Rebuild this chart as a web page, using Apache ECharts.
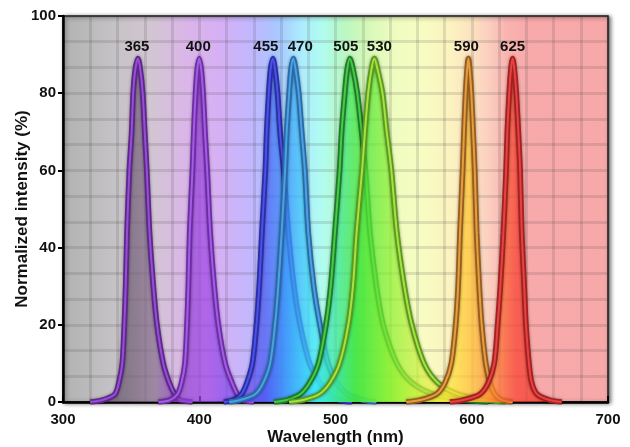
<!DOCTYPE html>
<html>
<head>
<meta charset="utf-8">
<script src="https://cdn.jsdelivr.net/npm/echarts@6/dist/echarts.min.js"></script>
<style>html,body{margin:0;padding:0;background:#fff}#c{width:630px;height:447px}</style>
</head>
<body>
<div id="c"></div>
<script>
// ---- data: [wavelength nm, normalized intensity %] ----
const peakNames = ['365', '400', '455', '470', '505', '530', '590', '625'];
const s365 = [[320,0],[329,0.5],[338,2],[341,5],[343.5,10],[345,20],[346,30],[347,44],[348.7,60],[350.4,70],[351.5,80],[353,86],[355,89],[356.8,86],[358.5,80],[360,70],[361.5,60],[363.5,44],[366.3,30],[369,20],[373.6,10],[378,5],[382,2],[386,0.5],[395,0]];
const s400 = [[370,0],[378.5,0.5],[384,2],[387,5],[389.5,10],[391,20],[392,30],[393,44],[395,60],[396,70],[397.3,80],[398.5,86],[400,89],[401.5,86],[402.8,80],[404.2,70],[405.8,60],[408,44],[411,30],[414,20],[419,10],[424,5],[428,2],[432,0.5],[440,0]];
const s455 = [[418,0],[425,0.5],[431,2],[435,5],[439,10],[442,20],[444,30],[446,44],[448.5,60],[449.5,70],[451,80],[452.3,86],[454,89],[455.7,86],[457.5,80],[459.3,70],[462,60],[465.4,44],[469.5,30],[474,20],[481,10],[488.6,5],[495,2],[503,0.5],[512,0]];
const s470 = [[422,0],[430,0.5],[441,2],[447,5],[452,10],[455.6,20],[458,30],[460.5,44],[463,60],[464.2,70],[466,80],[467.3,86],[469,89],[470.8,86],[473,80],[475.2,70],[477.5,60],[480,44],[484,30],[488.6,20],[494.5,10],[501,5],[509,2],[520,0.5],[530,0]];
const s505 = [[455,0],[464,0.5],[474,2],[481,5],[487.5,10],[493,20],[496.5,30],[499.6,44],[503,60],[504.5,70],[506.8,80],[508.5,86],[510.5,89],[513,86],[516,80],[519.2,70],[522,60],[525.3,44],[530,30],[535,20],[545,10],[556,5],[572,2],[595,0.5],[612,0]];
const s530 = [[466,0],[476,0.5],[488,2],[496,5],[503,10],[509.4,20],[512.8,30],[515.5,44],[519.5,60],[521.6,70],[524,80],[526.3,86],[528.5,89],[531,86],[534.5,80],[537.6,70],[541,60],[545,44],[550.5,30],[556,20],[565,10],[575,5],[590,2],[610,0.5],[625,0]];
const s590 = [[552,0],[562,0.5],[574,2],[580.4,5],[585,10],[588.2,20],[590,30],[591.4,44],[593.3,60],[594.3,70],[595.5,80],[596.6,86],[597.5,89],[598.5,86],[599.7,80],[601,70],[602.2,60],[603.6,44],[605.5,30],[607.3,20],[610.3,10],[613.4,5],[617,2],[622,0.5],[630,0]];
const s625 = [[584,0],[593.6,0.5],[606,2],[612.2,5],[616.5,10],[619,20],[621,30],[623.2,44],[625.2,60],[626.1,70],[627.5,80],[628.7,86],[630,89],[631.3,86],[632.7,80],[634.2,70],[635.5,60],[636.7,44],[638.5,30],[639.8,20],[642,10],[644,5],[648,2],[657,0.5],[666,0]];
const curves = [s365, s400, s455, s470, s505, s530, s590, s625];
const xTicks = [300, 400, 500, 600, 700];
const yTicks = [0, 20, 40, 60, 80, 100];

// ---- styles ----
const outerColors = ['#5e2590', '#6f2aa8', '#2a2ca8', '#2a6aa8', '#1f7a2c', '#5a9a1c', '#9a5a1c', '#a81e1e'];
const innerColors = ['#9550d0', '#a05ee0', '#4a52e6', '#4aa2e2', '#44cc44', '#a6e244', '#e0a040', '#e24444'];
const labelOffsetX = [-1, -1, -7, 7, -4, 5, -2, 0];
const FONT = 'Liberation Sans, Arial, sans-serif';

const chart = echarts.init(document.getElementById('c'), null, {renderer: 'canvas'});

const L = 63, R = 608;
function nmStop(nm, c) { return {offset: (nm - 300) / 400, color: c}; }
const bgGrad = new echarts.graphic.LinearGradient(0, 0, 1, 0, [
  nmStop(300, '#b2b2b2'), nmStop(340, '#c6c3c6'), nmStop(365, '#d2c6d2'),
  nmStop(390, '#dab6e8'), nmStop(415, '#d6b0f4'), nmStop(440, '#c0b8ff'),
  nmStop(458, '#a8c8ff'), nmStop(475, '#acecff'), nmStop(490, '#b0fcf0'),
  nmStop(505, '#b8f8c4'), nmStop(522, '#d4f8b8'), nmStop(542, '#eefcc0'),
  nmStop(565, '#f8fcc2'), nmStop(585, '#fcf2c0'), nmStop(600, '#fce2c0'),
  nmStop(612, '#fbcfc0'), nmStop(625, '#f9b4b0'), nmStop(640, '#f8aaaa'),
  nmStop(700, '#f7a8a8')
]);
const fillGrad = new echarts.graphic.LinearGradient(L, 0, R, 0, [
  nmStop(300, '#4a4a4a'), nmStop(345, '#6a5a6e'), nmStop(368, '#8a7090'),
  nmStop(382, '#8a40c8'), nmStop(405, '#a048e6'), nmStop(430, '#7048f0'),
  nmStop(448, '#4a58f2'), nmStop(465, '#3a9cfa'), nmStop(485, '#3ae6f6'),
  nmStop(500, '#3ae6a0'), nmStop(515, '#40e640'), nmStop(540, '#8af030'),
  nmStop(565, '#d8f040'), nmStop(585, '#ffe236'), nmStop(600, '#ffc030'),
  nmStop(615, '#ff8a30'), nmStop(632, '#f84030'), nmStop(700, '#e82020')
], true);

const series = [];
curves.forEach((d, i) => {
  let maxI = 0;
  d.forEach((p, k) => { if (p[1] > d[maxI][1]) maxI = k; });
  series.push({
    type: 'line', name: peakNames[i] + '_o', data: d, smooth: 0.3,
    showSymbol: false, symbol: 'none', silent: true, z: 2 + i * 2,
    lineStyle: {color: outerColors[i], width: 5.5, shadowColor: 'rgba(0,0,0,0.45)', shadowBlur: 3},
    areaStyle: {color: fillGrad, opacity: 0.72}
  });
  series.push({
    type: 'line', name: peakNames[i], data: d, smooth: 0.3,
    showSymbol: false, symbol: 'none', silent: true, z: 3 + i * 2,
    lineStyle: {color: innerColors[i], width: 2},
    markPoint: {
      silent: true, symbol: 'circle', symbolSize: 1,
      itemStyle: {color: 'rgba(0,0,0,0)'},
      label: {show: true, position: 'top', distance: 4, offset: [labelOffsetX[i], 0],
        formatter: peakNames[i], fontFamily: FONT, fontWeight: 'bold', fontSize: 15,
        color: '#111111', opacity: 1, textBorderWidth: 0},
      data: [{coord: d[maxI]}]
    }
  });
});

chart.setOption({
  animation: false,
  backgroundColor: '#ffffff',
  grid: {
    left: L, right: 630 - R, top: 16, bottom: 45, show: true,
    outerBoundsMode: 'none', containLabel: false,
    backgroundColor: bgGrad, borderColor: '#1a1a1a', borderWidth: 1.5,
    shadowColor: 'rgba(0,0,0,0.55)', shadowBlur: 4, shadowOffsetX: 2, shadowOffsetY: 1
  },
  xAxis: {
    type: 'value', min: xTicks[0], max: xTicks[xTicks.length - 1], interval: 100,
    name: 'Wavelength (nm)', nameLocation: 'middle', nameGap: 27, nameMoveOverlap: false,
    nameTextStyle: {fontFamily: FONT, fontWeight: 'bold', fontSize: 17, color: '#111'},
    axisLine: {show: true, lineStyle: {color: '#000', width: 2.5}},
    axisTick: {show: true, inside: true, length: 6, lineStyle: {color: '#000', width: 2}},
    axisLabel: {margin: 10, fontFamily: FONT, fontWeight: 'bold', fontSize: 15, color: '#111'},
    splitLine: {show: true, lineStyle: {color: 'rgba(60,60,60,0.14)', width: 3}},
    minorTick: {show: false, splitNumber: 5},
    minorSplitLine: {show: true, lineStyle: {color: 'rgba(60,60,60,0.14)', width: 3}}
  },
  yAxis: {
    type: 'value', min: yTicks[0], max: yTicks[yTicks.length - 1], interval: 20,
    name: 'Normalized intensity (%)', nameLocation: 'middle', nameGap: 32, nameMoveOverlap: false,
    nameTextStyle: {fontFamily: FONT, fontWeight: 'bold', fontSize: 17, color: '#111'},
    axisLine: {show: true, lineStyle: {color: '#000', width: 2.5}},
    axisTick: {show: true, inside: false, length: 5, lineStyle: {color: '#000', width: 2}},
    axisLabel: {margin: 7, fontFamily: FONT, fontWeight: 'bold', fontSize: 15, color: '#111'},
    splitLine: {show: true, lineStyle: {color: 'rgba(60,60,60,0.14)', width: 3}},
    minorTick: {show: false, splitNumber: 3},
    minorSplitLine: {show: true, lineStyle: {color: 'rgba(60,60,60,0.14)', width: 3}}
  },
  series: series
});
</script>
</body>
</html>
